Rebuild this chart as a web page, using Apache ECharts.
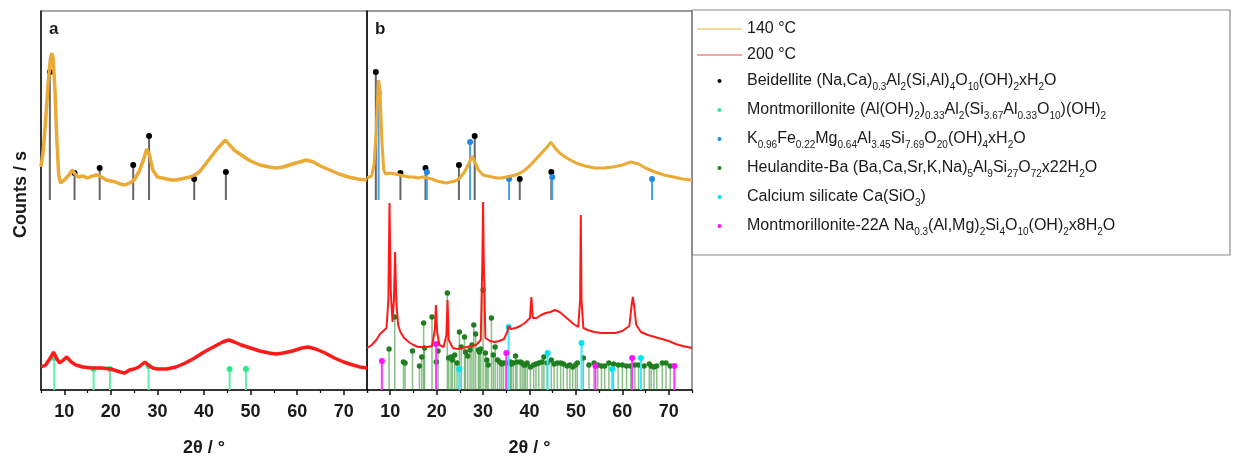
<!DOCTYPE html>
<html>
<head>
<meta charset="utf-8">
<script src="https://cdn.jsdelivr.net/npm/echarts@6/dist/echarts.min.js"></script>
<style>
  html, body { margin: 0; padding: 0; background: #fff; }
  #chart { width: 1233px; height: 457px; }
</style>
</head>
<body>
<div id="chart"></div>
<script>
// axis ticks
var majorTicks = [10, 20, 30, 40, 50, 60, 70];
var minorTicks = [5, 15, 25, 35, 45, 55, 65, 75];

// panel a, 140 °C pattern [2theta, counts]
var a140 = [[5,223],[5.5,240],[6,270],[6.5,305],[7,330],[7.3,337],[7.6,332],[8,300],[8.4,250],[8.8,215],[9.2,207],[10,210],[11,215],[11.7,220],[12.3,216],[13,213],[14,214],[15,212],[16,214],[17,215],[18,213],[19,210],[20,209],[21,208],[22,206],[23,205],[24,207],[25,210],[26,218],[27,230],[27.7,241],[28.3,235],[29,220],[30,213],[31,212],[32,211],[33,210],[34,210],[35,211],[36,212],[37,213],[38,215],[39,218],[40,224],[41,230],[42,236],[43,242],[44,247],[44.6,250],[45.5,245],[46.5,240],[48,235],[50,229],[52,225],[54,223],[55.5,222],[57,223],[59,226],[60.5,228],[62,230],[63.5,228],[65,224],[67,220],[69,216],[71,213],[73,211],[75,210]];
// panel a, 200 °C pattern
var a200 = [[5,23],[6,25],[7,32],[7.7,38],[8.3,32],[9,27],[9.8,30],[10.5,33],[11.5,28],[12.5,25],[14,23],[16,22],[18,22],[20,21],[22,18],[23,17],[24,20],[25,21],[26,23],[27.3,28],[28,25],[29,22],[30,21],[32,21],[34,23],[36,27],[38,32],[40,38],[42,43],[44,48],[45.3,50],[46.5,48],[48,45],[50,42],[52,39],[54,37],[55.5,36],[57,37],[59,39],[61,42],[62.3,43],[64,41],[66,37],[68,32],[70,28],[72,25],[73.5,23],[75,22]];
// panel b, 140 °C pattern
var b140 = [[5,212],[6,214],[6.5,225],[7,260],[7.3,295],[7.5,310],[7.8,300],[8.2,250],[8.6,220],[9,216],[10,217],[11,216],[12,215],[13,214],[14,213],[15,213],[16,212],[17,213],[18,212],[19,211],[20,209],[21,208],[22,207],[23,208],[24,209],[25,212],[26,218],[27,227],[27.6,234],[28.2,228],[29,220],[30,215],[31,214],[32,213],[33,212],[34,212],[35,213],[36,214],[37,215],[38,217],[39,220],[40,224],[41,229],[42,234],[43,239],[44,244],[44.6,248],[45.5,242],[46.5,237],[48,232],[50,227],[52,224],[54,222],[56,222],[58,223],[60,225],[61.8,228],[63.5,226],[65,222],[67,218],[69,215],[71,213],[73,211],[75,210]];
// panel b, 200 °C pattern
var b200 = [[5,42],[6,45],[7,50],[7.8,56],[8.5,59],[9.2,62],[9.6,90],[9.85,187],[10.1,100],[10.5,68],[10.8,90],[11.05,138],[11.3,90],[11.7,65],[12.2,58],[13,52],[14,48],[15,45],[16,43],[17,43],[18,43],[19,44],[19.6,60],[19.85,85],[20.1,58],[20.6,45],[21.5,43],[22.1,55],[22.35,90],[22.6,50],[23.5,42],[24.5,41],[25.5,42],[26.5,43],[27.5,44],[28.5,45],[29.5,50],[29.85,130],[30,188],[30.15,130],[30.5,52],[31.5,49],[32.5,48],[33.5,49],[34.5,51],[35.2,58],[35.5,64],[36,61],[37,62],[38,64],[39,67],[40.1,72],[40.4,93],[40.7,72],[41.5,72],[42.5,75],[43.5,77],[44.5,78],[45.5,80],[46.5,78],[47.5,74],[48.5,70],[49.5,66],[50.5,63],[50.9,90],[51.05,175],[51.2,90],[51.6,62],[52.5,60],[54,58],[55.5,57],[57,57],[58.5,57],[60,59],[61.5,64],[62,85],[62.25,93],[62.5,85],[63,65],[64,58],[65.5,55],[67,53],[68.5,51],[70,49],[71.5,46],[73,44],[75,42]];

// reference sticks [2theta, top]
var beidellite = [[6.9,318],[12.2,217],[17.6,222],[24.8,225],[28.2,254],[37.9,211],[44.7,218]];
var kfemg = [[7.5,297],[17.9,218],[27.2,248],[35.6,211],[44.9,213],[66.4,211]];
var montmorillonite = [[7.85,32],[16.3,21],[19.8,21],[28.1,24],[45.5,21],[49.0,21]];
var heulandite = [[9.75,41],[10.98,73],[12.85,28],[13.2,27],[14.8,39],[16.3,24],[16.8,33],[17.2,67],[17.4,42],[19.0,73],[19.9,28],[20.3,39],[22.3,97],[22.6,32],[23.1,33],[23.4,30],[23.9,35],[24.4,27],[24.9,58],[25.3,43],[26.0,53],[26.2,38],[26.7,34],[27.2,40],[27.6,45],[28.0,65],[28.4,56],[29.0,40],[29.2,38],[29.5,41],[30.0,100],[30.5,37],[30.8,30],[31.1,25],[31.8,72],[32.2,35],[32.6,43],[33.1,30],[33.6,28],[34.0,26],[34.4,27],[35.0,27],[35.9,28],[36.1,26],[36.5,27],[37.0,34],[37.3,28],[38.0,28],[38.4,27],[38.8,25],[39.1,25],[39.5,27],[40.2,23],[40.9,25],[41.4,26],[42.0,27],[42.7,28],[43.1,33],[43.8,27],[44.7,30],[45.3,26],[46.0,27],[46.7,27],[47.3,26],[48.1,24],[48.7,25],[49.3,23],[49.9,25],[50.3,27],[51.6,32],[52.8,25],[53.9,27],[54.7,25],[55.5,24],[56.2,24],[57.1,27],[58.1,26],[59.1,25],[60.0,25],[60.9,24],[61.8,24],[62.7,25],[63.5,25],[64.7,24],[65.8,26],[66.2,24],[66.8,23],[67.4,24],[68.6,27],[69.4,27],[70.3,24]];
var caSilicate = [[24.9,21],[35.5,63],[43.9,37],[51.2,47],[57.8,21],[64.0,32]];
var mont22a = [[8.2,29],[19.9,46],[35.0,37],[54.2,24],[62.1,32],[71.2,24]];

var upperBase = 190; // sticks for 140 °C start here

var legendText = {
    '140 °C': '{p|140 °C}',
    '200 °C': '{p|200 °C}',
    'Beidellite': '{n|Beidellite (Na,Ca)}{s|0.3}{n|Al}{s|2}{n|(Si,Al)}{s|4}{n|O}{s|10}{n|(OH)}{s|2}{n|xH}{s|2}{n|O}',
    'Montmorillonite': '{n|Montmorillonite (Al(OH)}{s|2}{n|)}{s|0.33}{n|Al}{s|2}{n|(Si}{s|3.67}{n|Al}{s|0.33}{n|O}{s|10}{n|)(OH)}{s|2}',
    'KFeMg': '{n|K}{s|0.96}{n|Fe}{s|0.22}{n|Mg}{s|0.64}{n|Al}{s|3.45}{n|Si}{s|7.69}{n|O}{s|20}{n|(OH)}{s|4}{n|xH}{s|2}{n|O}',
    'Heulandite': '{n|Heulandite-Ba (Ba,Ca,Sr,K,Na)}{s|5}{n|Al}{s|9}{n|Si}{s|27}{n|O}{s|72}{n|x22H}{s|2}{n|O}',
    'Calcium silicate': '{n|Calcium silicate Ca(SiO}{s|3}{n|)}',
    'Montmorillonite-22A': '{n|Montmorillonite-22A Na}{s|0.3}{n|(Al,Mg)}{s|2}{n|Si}{s|4}{n|O}{s|10}{n|(OH)}{s|2}{n|x8H}{s|2}{n|O}'
};

var myChart = echarts.init(document.getElementById('chart'));

function patternLine(name, data, xIdx, color, width) {
    return {
        name: name, type: 'line', xAxisIndex: xIdx, yAxisIndex: xIdx / 2,
        data: data, showSymbol: false, silent: true,
        itemStyle: {color: color},
        lineStyle: {color: color, width: width}
    };
}

function sticks(name, data, xIdx, base, lineColor, dotColor, width, r) {
    return {
        name: name, type: 'custom', xAxisIndex: xIdx, yAxisIndex: xIdx / 2,
        data: data, silent: true,
        itemStyle: {color: dotColor},
        renderItem: function (params, api) {
            var top = api.coord([api.value(0), api.value(1)]);
            var bot = api.coord([api.value(0), base]);
            return {
                type: 'group',
                children: [
                    {type: 'line', shape: {x1: top[0], y1: top[1], x2: bot[0], y2: bot[1]},
                        style: {stroke: lineColor, lineWidth: width}},
                    {type: 'circle', shape: {cx: top[0], cy: top[1], r: r},
                        style: {fill: dotColor}}
                ]
            };
        }
    };
}

var boldFont = {fontFamily: 'Liberation Sans', fontWeight: 'bold', color: '#1a1a1a'};

function mainX(gridIdx) {
    return {
        type: 'value', gridIndex: gridIdx, min: 5, max: 75, position: 'bottom',
        name: '2θ / °', nameLocation: 'middle', nameGap: 49,
        nameTextStyle: Object.assign({fontSize: 18}, boldFont),
        axisLine: {lineStyle: {color: '#111', width: 1.5}},
        axisTick: {customValues: majorTicks, length: 5, lineStyle: {color: '#111', width: 1.5}},
        axisLabel: Object.assign({customValues: majorTicks, fontSize: 18, margin: 13}, boldFont),
        splitLine: {show: false}
    };
}
function minorX(gridIdx) {
    return {
        type: 'value', gridIndex: gridIdx, min: 5, max: 75, position: 'bottom',
        axisLine: {show: false},
        axisTick: {customValues: minorTicks, length: 3, lineStyle: {color: '#111', width: 1.2}},
        axisLabel: {show: false},
        splitLine: {show: false}
    };
}
function yAx(gridIdx, withName) {
    return {
        type: 'value', gridIndex: gridIdx, min: 0, max: 379,
        name: withName ? 'Counts / s' : '', nameLocation: 'middle', nameGap: 11, nameRotate: 90,
        nameTextStyle: Object.assign({fontSize: 18, padding: [0, 0, 0, 12]}, boldFont),
        axisLine: {show: true, lineStyle: {color: '#111', width: 1.5}},
        axisTick: {show: false}, axisLabel: {show: false}, splitLine: {show: false}
    };
}

var lineIcon = 'path://M0,0H45V2H0Z';

option = {
    animation: false,
    title: [
        {text: 'a', left: 44, top: 16, textStyle: Object.assign({fontSize: 17}, boldFont)},
        {text: 'b', left: 370, top: 16, textStyle: Object.assign({fontSize: 17}, boldFont)}
    ],
    grid: [
        {left: 41, top: 11, width: 326, height: 379, show: true, borderColor: '#555', borderWidth: 1,
            outerBoundsMode: 'none'},
        {left: 367, top: 11, width: 325, height: 379, show: true, borderColor: '#333', borderWidth: 1,
            outerBoundsMode: 'none'}
    ],
    xAxis: [mainX(0), minorX(0), mainX(1), minorX(1)],
    yAxis: [yAx(0, true), yAx(1, false)],
    legend: {
        orient: 'vertical', left: 692, top: 16,
        itemWidth: 45, itemHeight: 4, itemGap: 10,
        selectedMode: false,
        formatter: function (name) { return legendText[name]; },
        textStyle: {
            fontFamily: 'Liberation Sans', color: '#1a1a1a', fontSize: 16,
            rich: {
                p: {fontSize: 16, lineHeight: 19, fontFamily: 'Liberation Sans', color: '#1a1a1a'},
                n: {fontSize: 16, lineHeight: 22, fontFamily: 'Liberation Sans', color: '#1a1a1a'},
                s: {fontSize: 10, lineHeight: 11, verticalAlign: 'bottom', fontFamily: 'Liberation Sans', color: '#1a1a1a'}
            }
        },
        data: [
            {name: '140 °C', icon: lineIcon, itemStyle: {color: '#f7d49c'}},
            {name: '200 °C', icon: lineIcon, itemStyle: {color: '#f8a3a8'}},
            {name: 'Beidellite', icon: 'circle', itemStyle: {color: '#000'}},
            {name: 'Montmorillonite', icon: 'circle', itemStyle: {color: '#2ee88e'}},
            {name: 'KFeMg', icon: 'circle', itemStyle: {color: '#2486e8'}},
            {name: 'Heulandite', icon: 'circle', itemStyle: {color: '#1f7f1f'}},
            {name: 'Calcium silicate', icon: 'circle', itemStyle: {color: '#00e5f5'}},
            {name: 'Montmorillonite-22A', icon: 'circle', itemStyle: {color: '#ff10ff'}}
        ]
    },
    graphic: [
        {type: 'rect', shape: {x: 692, y: 10, width: 538, height: 245},
            style: {fill: 'none', stroke: '#888', lineWidth: 1.2}, silent: true}
    ],
    series: [
        patternLine('140 °C', a140, 0, '#eba935', 3.5),
        patternLine('200 °C', a200, 0, '#ff1a1a', 3.5),
        patternLine('140 °C', b140, 2, '#eba935', 3),
        patternLine('200 °C', b200, 2, '#ff1a1a', 2),
        sticks('Beidellite', beidellite, 0, upperBase, '#666', '#000', 2, 3),
        sticks('Montmorillonite', montmorillonite, 0, 0, '#5ff0a8', '#2ee88e', 2, 3),
        sticks('Heulandite', heulandite, 2, 0, 'rgba(40,140,40,0.55)', '#1f7f1f', 1.5, 2.7),
        sticks('Calcium silicate', caSilicate, 2, 0, '#33eaff', '#00e5f5', 2, 3),
        sticks('Montmorillonite-22A', mont22a, 2, 0, '#ff33ff', '#ff10ff', 2, 3),
        sticks('Beidellite', beidellite, 2, upperBase, '#666', '#000', 2, 3),
        sticks('KFeMg', kfemg, 2, upperBase, '#4aa0f0', '#2486e8', 2, 3)
    ]
};

myChart.setOption(option);
</script>
</body>
</html>
